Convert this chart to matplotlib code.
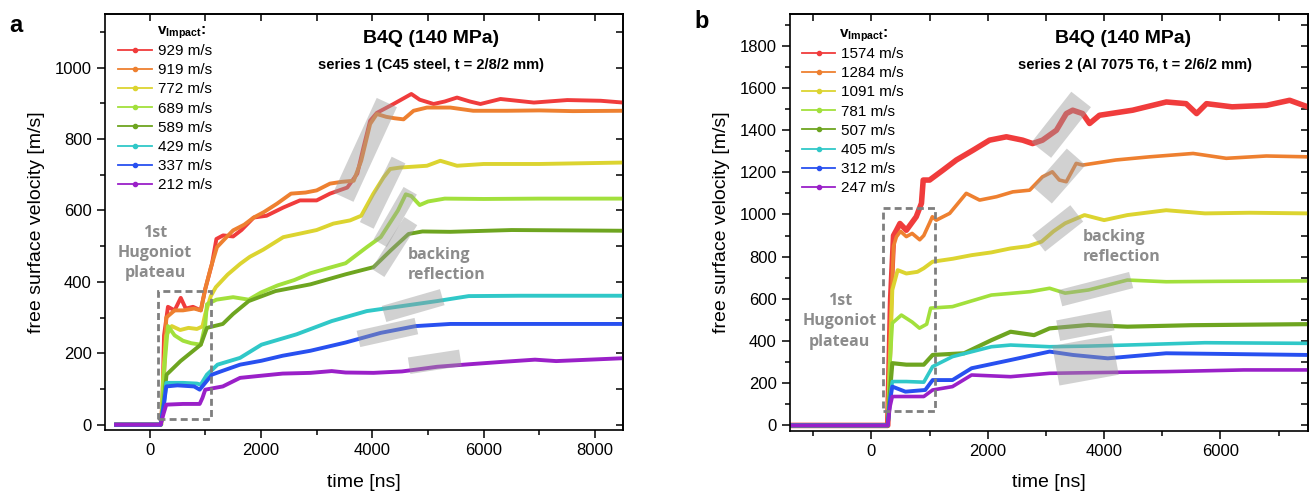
import matplotlib
matplotlib.use("Agg")
import matplotlib.pyplot as plt
from matplotlib.lines import Line2D
from matplotlib.patches import Rectangle
from matplotlib.ticker import MultipleLocator

plt.rcParams['font.family'] = ['Liberation Sans', 'DejaVu Sans']
plt.rcParams['mathtext.fontset'] = 'custom'
plt.rcParams['mathtext.bf'] = 'Liberation Sans:bold'
plt.rcParams['mathtext.rm'] = 'Liberation Sans'

# colours of the eight traces (highest to lowest impact velocity)
colors = ['#f03c3c', '#ee8030', '#dcd430', '#a2e03c', '#6ea520', '#30c8c8', '#2850f0', '#9a20c8']

# ---- panel a: series 1 (C45 steel) ----
labels_a = ['929 m/s', '919 m/s', '772 m/s', '689 m/s', '589 m/s', '429 m/s', '337 m/s', '212 m/s']

t_a929 = [-600, 200, 230, 260, 330, 450, 560, 650, 780, 920, 1000, 1120, 1200, 1320, 1500, 1650, 1870,
          2100, 2400, 2700, 3000, 3240, 3550, 3730, 3840, 3960, 4080, 4380, 4700, 4850, 5100, 5300,
          5520, 5750, 5940, 6300, 6900, 7500, 8100, 8500]
v_a929 = [0, 0, 60, 250, 330, 320, 355, 325, 330, 320, 380, 450, 520, 530, 527, 545, 580,
          585, 608, 628, 628, 647, 664, 703, 776, 851, 873, 898, 926, 910, 898, 905,
          916, 905, 898, 912, 902, 909, 907, 902]

t_a919 = [-600, 200, 240, 300, 450, 600, 800, 920, 1000, 1100, 1210, 1350, 1500, 1700, 1870, 2050,
          2290, 2540, 2800, 3000, 3240, 3450, 3665, 3800, 3960, 4080, 4250, 4400, 4560, 4740, 4980,
          5400, 5810, 6420, 7000, 7600, 8500]
v_a919 = [0, 0, 50, 300, 320, 320, 325, 320, 380, 440, 497, 520, 544, 560, 580, 595,
          619, 647, 650, 656, 675, 680, 683, 739, 842, 870, 862, 858, 855, 879, 888,
          888, 879, 879, 880, 878, 879]

t_a772 = [-600, 210, 250, 300, 400, 550, 700, 850, 950, 1000, 1100, 1190, 1400, 1625, 1800, 2040,
          2400, 2700, 3000, 3300, 3600, 3800, 4015, 4200, 4320, 4500, 4980, 5220, 5520, 6000, 7000, 8500]
v_a772 = [0, 0, 150, 250, 276, 265, 271, 268, 275, 310, 360, 385, 420, 450, 470, 490,
          525, 535, 545, 563, 572, 585, 646, 692, 716, 720, 725, 739, 725, 730, 730, 734]

t_a689 = [-600, 210, 260, 330, 450, 600, 750, 920, 1000, 1030, 1200, 1500, 1780, 2000, 2300, 2600,
          2890, 3200, 3520, 3900, 4150, 4460, 4600, 4700, 4850, 5000, 5300, 6000, 7000, 8500]
v_a689 = [0, 0, 150, 276, 250, 235, 228, 224, 280, 337, 350, 357, 350, 370, 390, 405,
          424, 438, 452, 497, 525, 600, 645, 640, 615, 625, 633, 632, 633, 633]

t_a589 = [-600, 200, 250, 305, 556, 920, 1030, 1315, 1500, 1780, 2260, 2890, 3520, 4020, 4330,
          4650, 4900, 5400, 6500, 8500]
v_a589 = [0, 0, 60, 140, 178, 224, 271, 282, 310, 346, 374, 393, 421, 441, 488,
          534, 541, 540, 545, 543]

t_a429 = [-600, 200, 260, 300, 600, 850, 920, 1030, 1220, 1625, 2010, 2640, 3270, 3900, 4530,
          5160, 5730, 6670, 8500]
v_a429 = [0, 0, 60, 117, 117, 115, 112, 140, 168, 187, 224, 253, 290, 318, 332,
          346, 360, 361, 361]

t_a337 = [-600, 200, 260, 300, 500, 800, 900, 1120, 1315, 1625, 2010, 2390, 2890, 3520, 4150,
          4780, 5400, 8500]
v_a337 = [0, 0, 60, 107, 110, 107, 98, 140, 151, 168, 179, 193, 207, 230, 257,
          276, 282, 282]

t_a212 = [-600, 200, 250, 300, 600, 900, 950, 1000, 1315, 1625, 1940, 2260, 2390, 2890, 3270,
          3520, 4020, 4530, 4780, 5160, 5730, 6350, 6920, 7300, 8500]
v_a212 = [0, 0, 30, 56, 58, 58, 75, 98, 107, 131, 136, 141, 143, 145, 150,
          146, 145, 149, 154, 162, 169, 176, 182, 178, 186]

# ---- panel b: series 2 (Al 7075 T6) ----
labels_b = ['1574 m/s', '1284 m/s', '1091 m/s', '781 m/s', '507 m/s', '405 m/s', '312 m/s', '247 m/s']

t_b1574 = [-1400, 280, 330, 380, 430, 490, 600, 770, 860, 890, 1000, 1230, 1460, 1750, 2030, 2320,
           2600, 2770, 2940, 3180, 3350, 3460, 3630, 3750, 3920, 4490, 5070, 5410, 5590, 5760,
           6200, 6790, 7190, 7500]
v_b1574 = [0, 0, 600, 900, 925, 957, 925, 989, 1053, 1163, 1163, 1210, 1258, 1305, 1352, 1368,
           1352, 1336, 1352, 1399, 1478, 1494, 1478, 1431, 1470, 1494, 1533, 1525, 1478, 1525,
           1510, 1517, 1541, 1510]

t_b1284 = [-1400, 280, 330, 380, 430, 500, 600, 700, 830, 900, 1000, 1047, 1116, 1345, 1630, 1860,
           2150, 2430, 2720, 2940, 3110, 3230, 3350, 3520, 3630, 4200, 4780, 5530, 6100, 6790, 7500]
v_b1284 = [0, 0, 500, 850, 894, 920, 895, 910, 880, 900, 960, 989, 973, 1005, 1100, 1068,
           1084, 1107, 1115, 1178, 1202, 1163, 1155, 1242, 1234, 1258, 1273, 1289, 1266, 1277, 1273]

t_b1091 = [-1400, 280, 330, 359, 451, 600, 791, 900, 1052, 1400, 1722, 2060, 2392, 2700, 2925,
           3130, 3330, 3663, 4000, 4400, 5067, 5734, 6500, 7500]
v_b1091 = [0, 0, 400, 642, 736, 720, 728, 745, 776, 790, 807, 820, 839, 850, 871,
           920, 958, 997, 973, 997, 1020, 1005, 1008, 1005]

t_b781 = [-1400, 280, 320, 359, 515, 700, 826, 950, 1018, 1393, 2062, 2730, 3063, 3330, 3731,
          4400, 5067, 6000, 7500]
v_b781 = [0, 0, 300, 485, 523, 490, 461, 480, 556, 563, 618, 634, 650, 627, 642,
          689, 681, 683, 685]

t_b507 = [-1400, 280, 330, 359, 600, 900, 1052, 1593, 2062, 2392, 2796, 3063, 3731, 4400, 5500, 7500]
v_b507 = [0, 0, 200, 295, 288, 288, 334, 342, 404, 444, 428, 460, 476, 468, 475, 480]

t_b405 = [-1400, 280, 330, 359, 600, 900, 1052, 1393, 2062, 2392, 3063, 3731, 4400, 5734, 7500]
v_b405 = [0, 0, 150, 208, 208, 205, 279, 326, 373, 381, 373, 376, 381, 392, 389]

t_b312 = [-1400, 280, 320, 359, 584, 925, 1052, 1393, 1722, 2392, 3063, 3464, 4063, 5067, 7500]
v_b312 = [0, 0, 120, 184, 160, 168, 215, 215, 271, 310, 350, 334, 318, 342, 334]

t_b247 = [-1400, 280, 320, 359, 900, 1052, 1393, 1722, 2392, 3063, 3731, 5067, 6400, 7500]
v_b247 = [0, 0, 90, 137, 137, 168, 184, 239, 231, 247, 250, 255, 263, 263]

# grey "backing reflection" bands: (t0, v0, t1, v1, width in pt)
bands_a = [(3480, 637, 4260, 902, 16), (3900, 558, 4470, 741, 11), (4140, 508, 4680, 655, 11),
           (4100, 425, 4690, 570, 11), (4210, 310, 5255, 357, 12), (3750, 240, 4790, 276, 12),
           (4660, 165, 5580, 187, 12)]
bands_b = [(2920, 1305, 3605, 1545, 18), (2940, 1091, 3520, 1273, 18), (2875, 863, 3530, 1005, 15),
           (3245, 603, 4465, 689, 12), (3210, 449, 4145, 499, 15), (3170, 283, 4190, 334, 29)]

# dashed "1st Hugoniot plateau" boxes: (t0, v0, t1, v1)
box_a = (160, 15, 1110, 375)
box_b = (200, 70, 1100, 1030)

series_a = [(t_a929, v_a929), (t_a919, v_a919), (t_a772, v_a772), (t_a689, v_a689),
            (t_a589, v_a589), (t_a429, v_a429), (t_a337, v_a337), (t_a212, v_a212)]
series_b = [(t_b1574, v_b1574), (t_b1284, v_b1284), (t_b1091, v_b1091), (t_b781, v_b781),
            (t_b507, v_b507), (t_b405, v_b405), (t_b312, v_b312), (t_b247, v_b247)]

fig = plt.figure(figsize=(13.11, 4.97), dpi=100)
ax_a = fig.add_axes([105 / 1311, 67 / 497, 518 / 1311, 416 / 497])
ax_b = fig.add_axes([790 / 1311, 66.3 / 497, 517.7 / 1311, 416.7 / 497])

grey_txt = '#8c8c8c'


def draw_panel(ax, series, labels, bands, box, xlim, ylim, title2, leg_xy, head_xy,
               lw_list, txt1_xy, txt2_xy):
    for (t, v), c, lw in zip(series, colors, lw_list):
        ax.plot(t, v, color=c, lw=lw, solid_joinstyle='round', zorder=2)
    for t0, v0, t1, v1, w in bands:
        ax.plot([t0, t1], [v0, v1], color='#9a9a9a', alpha=0.45, lw=w,
                solid_capstyle='butt', zorder=3)
    x0, y0, x1, y1 = box
    ax.add_patch(Rectangle((x0, y0), x1 - x0, y1 - y0, fill=False, ec='#7f7f7f',
                           lw=2.0, ls=(0, (2.5, 1.5)), zorder=4))
    ax.set_xlim(*xlim)
    ax.set_ylim(*ylim)
    ax.xaxis.set_major_locator(MultipleLocator(2000))
    ax.xaxis.set_minor_locator(MultipleLocator(1000))
    ax.yaxis.set_major_locator(MultipleLocator(200))
    ax.yaxis.set_minor_locator(MultipleLocator(100))
    ax.tick_params(which='both', direction='out', labelsize=12, width=1.1, pad=4)
    ax.tick_params(which='major', length=5.5)
    ax.tick_params(which='minor', length=3.5)
    for s in ax.spines.values():
        s.set_linewidth(1.2)
    top = ax.secondary_xaxis('top')
    top.xaxis.set_major_locator(MultipleLocator(1000))
    top.tick_params(direction='in', length=5, width=1.1, labeltop=False)
    top.spines['top'].set_linewidth(1.2)
    right = ax.secondary_yaxis('right')
    right.yaxis.set_major_locator(MultipleLocator(100))
    right.tick_params(direction='in', length=5, width=1.1, labelright=False)
    right.spines['right'].set_linewidth(1.2)

    ax.set_xlabel('time [ns]', fontsize=14)
    ax.set_ylabel('free surface velocity [m/s]', fontsize=14)
    ax.xaxis.set_label_coords(0.5, -0.105)
    ax.yaxis.set_label_coords(-0.115, 0.5)

    handles = [Line2D([], [], color=c, lw=1.3, marker='o', ms=3) for c in colors]
    ax.legend(handles, labels, loc='upper left', bbox_to_anchor=leg_xy, frameon=False,
              fontsize=11, handlelength=2.2, handletextpad=0.4, labelspacing=0.34,
              borderpad=0, borderaxespad=0)
    ax.text(*head_xy, r'$\mathbf{v}_{\mathbf{Impact}}$:', transform=ax.transAxes,
            fontsize=11, fontweight='bold', ha='left', va='center')

    ax.text(title2[0], 0.942, 'B4Q (140 MPa)', transform=ax.transAxes, fontsize=14,
            fontweight='bold', ha='center', va='center')
    ax.text(title2[1], 0.877, title2[2], transform=ax.transAxes, fontsize=10.5,
            fontweight='bold', ha='center', va='center')

    ax.text(*txt1_xy, '1st\nHugoniot\nplateau', fontsize=11.5, fontweight='bold',
            color=grey_txt, ha='center', va='center', linespacing=1.35,
            family=['Open Sans', 'DejaVu Sans'])
    ax.text(*txt2_xy, 'backing\nreflection', fontsize=11.5, fontweight='bold',
            color=grey_txt, ha='left', va='center', linespacing=1.35,
            family=['Open Sans', 'DejaVu Sans'])


draw_panel(ax_a, series_a, labels_a, bands_a, box_a, (-800, 8500), (-15, 1150),
           (0.63, 0.63, 'series 1 (C45 steel, t = 2/8/2 mm)'), (0.025, 0.928), (0.10, 0.955),
           [2.8] * 8, (100, 480), (4640, 446))
draw_panel(ax_b, series_b, labels_b, bands_b, box_b, (-1400, 7500), (-25, 1950),
           (0.644, 0.666, 'series 2 (Al 7075 T6, t = 2/6/2 mm)'), (0.0226, 0.921), (0.095, 0.948),
           [4.0, 2.6, 2.8, 2.6, 3.0, 2.6, 2.8, 2.6], (-545, 493), (3629, 847))

fig.text(16 / 1311, 1 - 25 / 497, 'a', fontsize=17, fontweight='bold', ha='center', va='center')
fig.text(702 / 1311, 1 - 22 / 497, 'b', fontsize=17, fontweight='bold', ha='center', va='center')

fig.savefig('out.png', dpi=100)
